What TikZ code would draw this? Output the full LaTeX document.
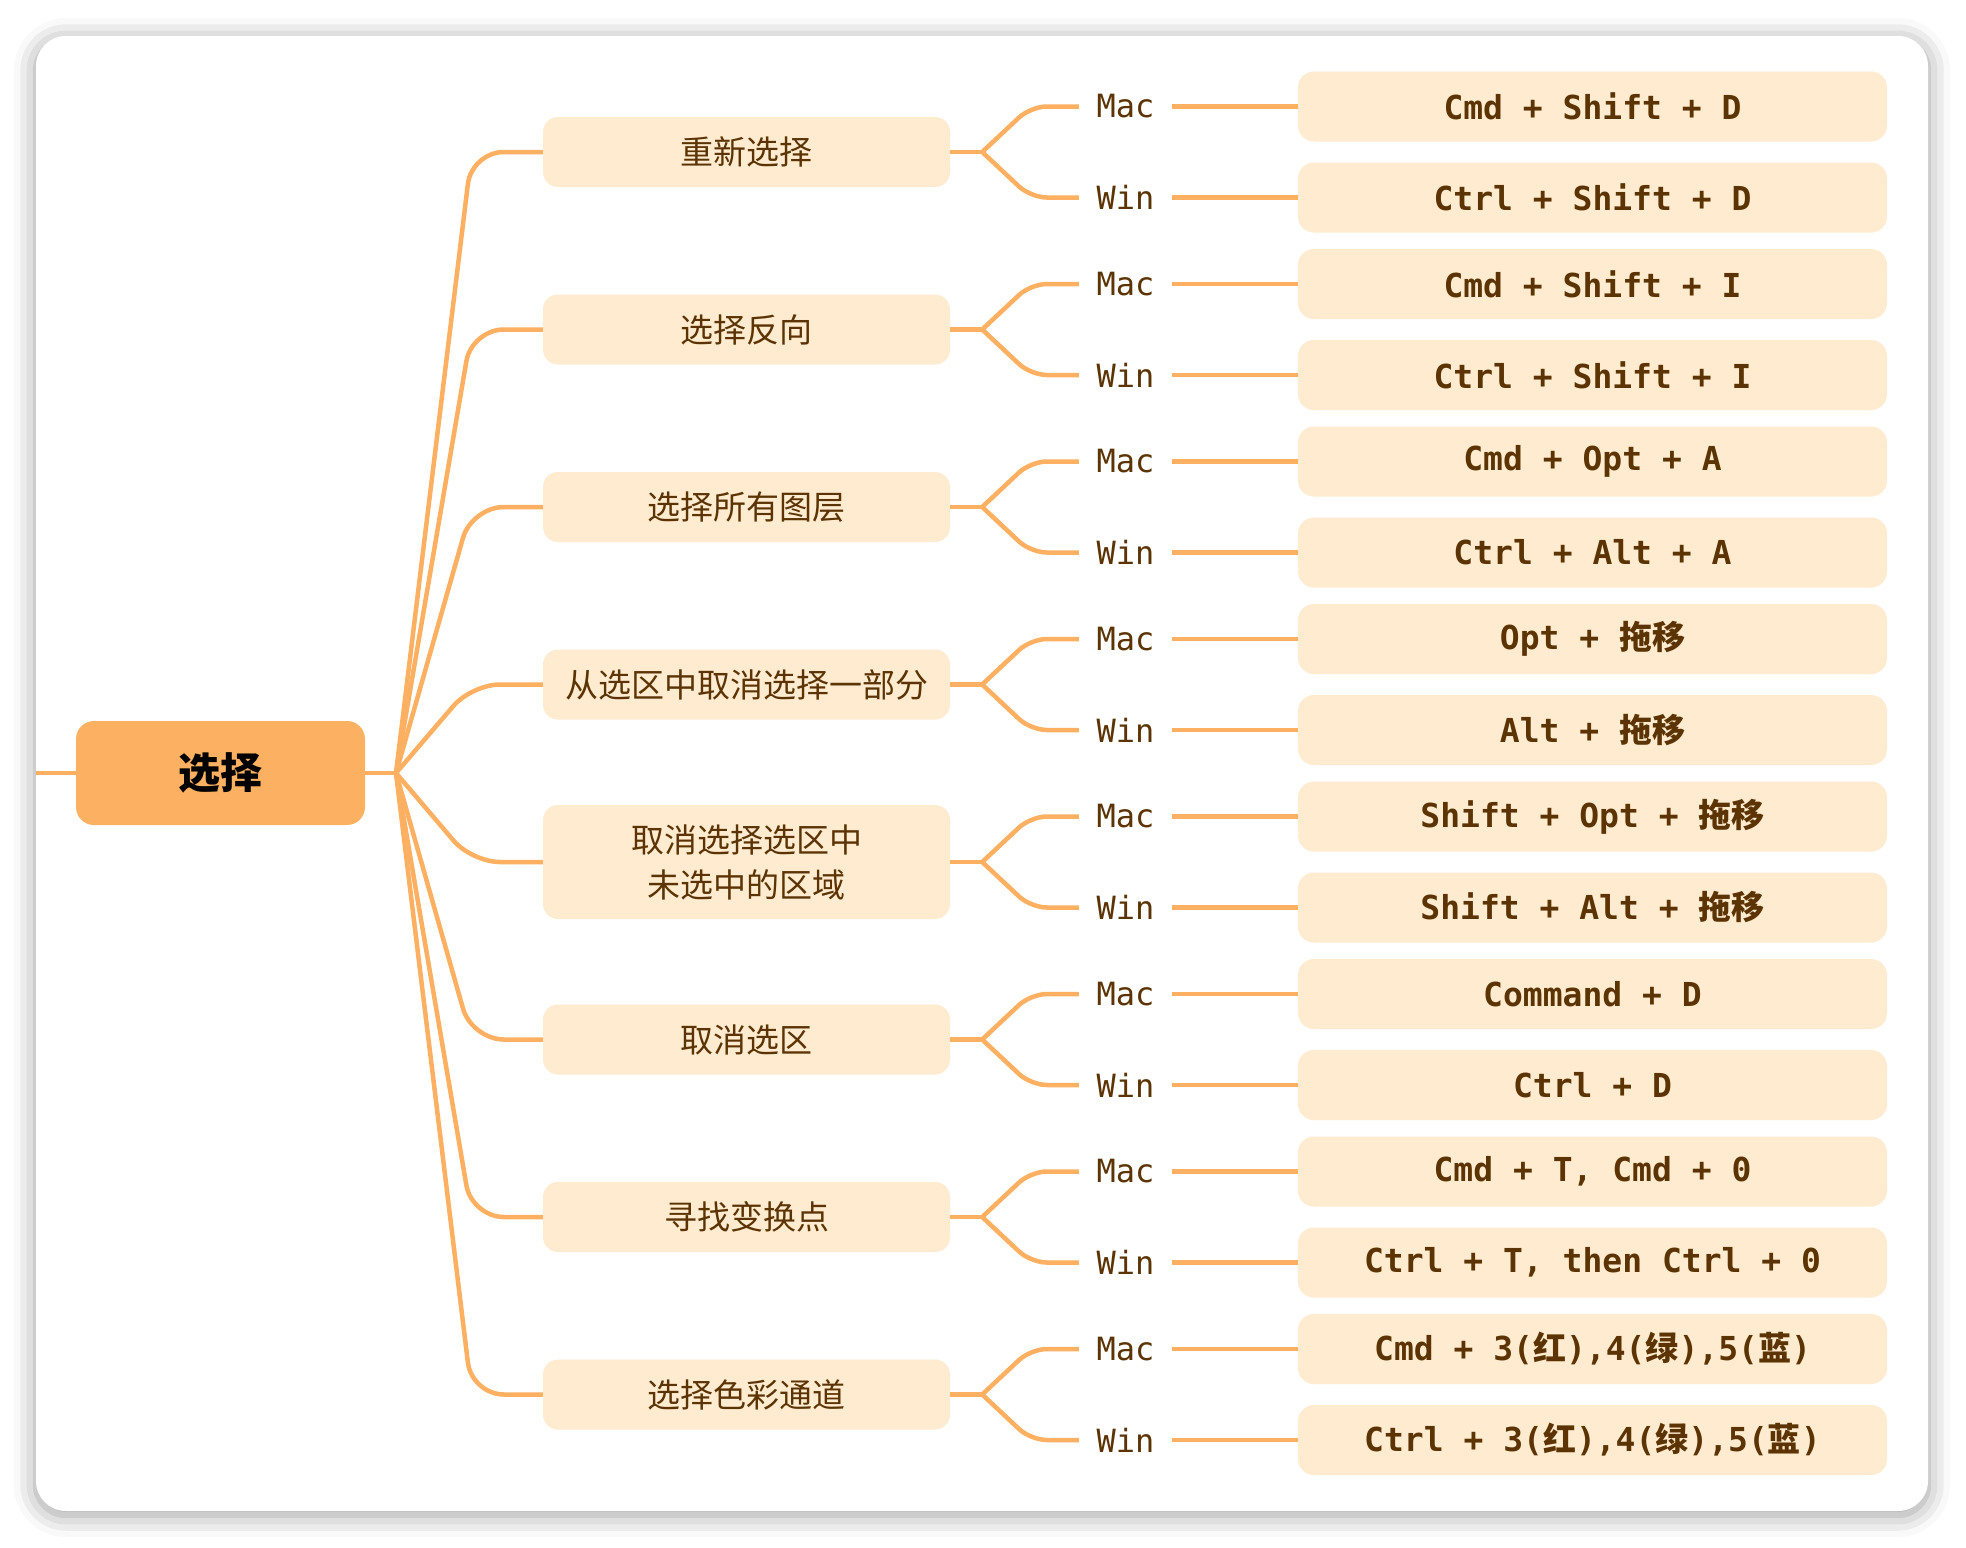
\documentclass[tikz,border=0pt]{standalone}
\usepackage{fontspec}
\usetikzlibrary{shadows.blur}
\newfontfamily\cjk{Noto Sans CJK SC}
\newfontfamily\keyfont{DejaVu Sans Mono}
\definecolor{lineorange}{HTML}{FDB062}
\definecolor{rootfill}{HTML}{FCB061}
\definecolor{paleorange}{HTML}{FFEBCF}
\definecolor{keybrown}{HTML}{5C3404}
\tikzset{
  branch/.style={draw=lineorange, line width=4.5pt},
  rootbox/.style={fill=rootfill, rounded corners=18pt, minimum width=289pt, minimum height=104pt,
    inner sep=0pt, font=\cjk\bfseries\fontsize{42}{50}\selectfont},
  topicbox/.style={fill=paleorange, rounded corners=15pt, minimum width=407pt, minimum height=70pt,
    inner sep=0pt, align=center, text=keybrown, font=\cjk\fontsize{33}{45}\selectfont},
  oslabel/.style={minimum width=93pt, inner sep=0pt, text=keybrown, font=\keyfont\fontsize{32}{38}\selectfont},
  keybox/.style={fill=paleorange, rounded corners=16pt, minimum width=589pt, minimum height=70pt,
    inner sep=0pt, text=keybrown, font=\keyfont\bfseries\fontsize{33}{40}\selectfont}
}
\begin{document}
\begin{tikzpicture}[x=1pt, y=-1pt]
\useasboundingbox (0,0) rectangle (1966,1548);
% card
\fill[white, rounded corners=30pt, blur shadow={shadow xshift=0pt, shadow yshift=-4pt, shadow blur radius=22pt, shadow opacity=40}] (36,36) rectangle (1928,1511);
% root
\node[rootbox] (sel0) at (220.5,773){选择};
\coordinate (edge) at (36,773);
\coordinate (hub) at (396,773);
\draw[branch](edge) -- (sel0);
\draw[branch](sel0) -- (hub);
% group 1
\node[topicbox] (sel1) at (746.5,152){重新选择};
\node[oslabel] (mac1) at (1125.5,106.5){Mac};
\node[oslabel] (win1) at (1125.5,197.5){Win};
\node[keybox] (kmac1) at (1592.5,106.5){Cmd + Shift + D};
\node[keybox] (kwin1) at (1592.5,197.5){Ctrl + Shift + D};
\draw[branch, rounded corners=32pt](hub) -- ([xshift=-71pt]sel1.west) -- (sel1.west);
\draw[branch](sel1.east) -- ++(32,0) coordinate (sub1);
\draw[branch, rounded corners=16pt](sub1) -- ([xshift=-48pt]mac1.west) -- (mac1.west);
\draw[branch, rounded corners=16pt](sub1) -- ([xshift=-48pt]win1.west) -- (win1.west);
\draw[branch](mac1) -- (kmac1);
\draw[branch](win1) -- (kwin1);
% group 2
\node[topicbox] (sel2) at (746.5,329.5){选择反向};
\node[oslabel] (mac2) at (1125.5,284){Mac};
\node[oslabel] (win2) at (1125.5,375){Win};
\node[keybox] (kmac2) at (1592.5,284){Cmd + Shift + I};
\node[keybox] (kwin2) at (1592.5,375){Ctrl + Shift + I};
\draw[branch, rounded corners=32pt](hub) -- ([xshift=-71pt]sel2.west) -- (sel2.west);
\draw[branch](sel2.east) -- ++(32,0) coordinate (sub2);
\draw[branch, rounded corners=16pt](sub2) -- ([xshift=-48pt]mac2.west) -- (mac2.west);
\draw[branch, rounded corners=16pt](sub2) -- ([xshift=-48pt]win2.west) -- (win2.west);
\draw[branch](mac2) -- (kmac2);
\draw[branch](win2) -- (kwin2);
% group 3
\node[topicbox] (sel3) at (746.5,507){选择所有图层};
\node[oslabel] (mac3) at (1125.5,461.5){Mac};
\node[oslabel] (win3) at (1125.5,552.5){Win};
\node[keybox] (kmac3) at (1592.5,461.5){Cmd + Opt + A};
\node[keybox] (kwin3) at (1592.5,552.5){Ctrl + Alt + A};
\draw[branch, rounded corners=32pt](hub) -- ([xshift=-71pt]sel3.west) -- (sel3.west);
\draw[branch](sel3.east) -- ++(32,0) coordinate (sub3);
\draw[branch, rounded corners=16pt](sub3) -- ([xshift=-48pt]mac3.west) -- (mac3.west);
\draw[branch, rounded corners=16pt](sub3) -- ([xshift=-48pt]win3.west) -- (win3.west);
\draw[branch](mac3) -- (kmac3);
\draw[branch](win3) -- (kwin3);
% group 4
\node[topicbox] (sel4) at (746.5,684.5){从选区中取消选择一部分};
\node[oslabel] (mac4) at (1125.5,639){Mac};
\node[oslabel] (win4) at (1125.5,730){Win};
\node[keybox] (kmac4) at (1592.5,639){Opt + {\cjk 拖移}};
\node[keybox] (kwin4) at (1592.5,730){Alt + {\cjk 拖移}};
\draw[branch, rounded corners=28pt](hub) -- ([xshift=-71pt]sel4.west) -- (sel4.west);
\draw[branch](sel4.east) -- ++(32,0) coordinate (sub4);
\draw[branch, rounded corners=16pt](sub4) -- ([xshift=-48pt]mac4.west) -- (mac4.west);
\draw[branch, rounded corners=16pt](sub4) -- ([xshift=-48pt]win4.west) -- (win4.west);
\draw[branch](mac4) -- (kmac4);
\draw[branch](win4) -- (kwin4);
% group 5
\node[topicbox, minimum height=114pt] (sel5) at (746.5,862){取消选择选区中\\未选中的区域};
\node[oslabel] (mac5) at (1125.5,816.5){Mac};
\node[oslabel] (win5) at (1125.5,907.5){Win};
\node[keybox] (kmac5) at (1592.5,816.5){Shift + Opt + {\cjk 拖移}};
\node[keybox] (kwin5) at (1592.5,907.5){Shift + Alt + {\cjk 拖移}};
\draw[branch, rounded corners=28pt](hub) -- ([xshift=-71pt]sel5.west) -- (sel5.west);
\draw[branch](sel5.east) -- ++(32,0) coordinate (sub5);
\draw[branch, rounded corners=16pt](sub5) -- ([xshift=-48pt]mac5.west) -- (mac5.west);
\draw[branch, rounded corners=16pt](sub5) -- ([xshift=-48pt]win5.west) -- (win5.west);
\draw[branch](mac5) -- (kmac5);
\draw[branch](win5) -- (kwin5);
% group 6
\node[topicbox] (sel6) at (746.5,1039.5){取消选区};
\node[oslabel] (mac6) at (1125.5,994){Mac};
\node[oslabel] (win6) at (1125.5,1085){Win};
\node[keybox] (kmac6) at (1592.5,994){Command + D};
\node[keybox] (kwin6) at (1592.5,1085){Ctrl + D};
\draw[branch, rounded corners=32pt](hub) -- ([xshift=-71pt]sel6.west) -- (sel6.west);
\draw[branch](sel6.east) -- ++(32,0) coordinate (sub6);
\draw[branch, rounded corners=16pt](sub6) -- ([xshift=-48pt]mac6.west) -- (mac6.west);
\draw[branch, rounded corners=16pt](sub6) -- ([xshift=-48pt]win6.west) -- (win6.west);
\draw[branch](mac6) -- (kmac6);
\draw[branch](win6) -- (kwin6);
% group 7
\node[topicbox] (sel7) at (746.5,1217){寻找变换点};
\node[oslabel] (mac7) at (1125.5,1171.5){Mac};
\node[oslabel] (win7) at (1125.5,1262.5){Win};
\node[keybox] (kmac7) at (1592.5,1171.5){Cmd + T, Cmd + 0};
\node[keybox] (kwin7) at (1592.5,1262.5){Ctrl + T, then Ctrl + 0};
\draw[branch, rounded corners=32pt](hub) -- ([xshift=-71pt]sel7.west) -- (sel7.west);
\draw[branch](sel7.east) -- ++(32,0) coordinate (sub7);
\draw[branch, rounded corners=16pt](sub7) -- ([xshift=-48pt]mac7.west) -- (mac7.west);
\draw[branch, rounded corners=16pt](sub7) -- ([xshift=-48pt]win7.west) -- (win7.west);
\draw[branch](mac7) -- (kmac7);
\draw[branch](win7) -- (kwin7);
% group 8
\node[topicbox] (sel8) at (746.5,1394.5){选择色彩通道};
\node[oslabel] (mac8) at (1125.5,1349){Mac};
\node[oslabel] (win8) at (1125.5,1440){Win};
\node[keybox] (kmac8) at (1592.5,1349){Cmd + 3({\cjk 红}),4({\cjk 绿}),5({\cjk 蓝})};
\node[keybox] (kwin8) at (1592.5,1440){Ctrl + 3({\cjk 红}),4({\cjk 绿}),5({\cjk 蓝})};
\draw[branch, rounded corners=32pt](hub) -- ([xshift=-71pt]sel8.west) -- (sel8.west);
\draw[branch](sel8.east) -- ++(32,0) coordinate (sub8);
\draw[branch, rounded corners=16pt](sub8) -- ([xshift=-48pt]mac8.west) -- (mac8.west);
\draw[branch, rounded corners=16pt](sub8) -- ([xshift=-48pt]win8.west) -- (win8.west);
\draw[branch](mac8) -- (kmac8);
\draw[branch](win8) -- (kwin8);
\end{tikzpicture}
\end{document}
